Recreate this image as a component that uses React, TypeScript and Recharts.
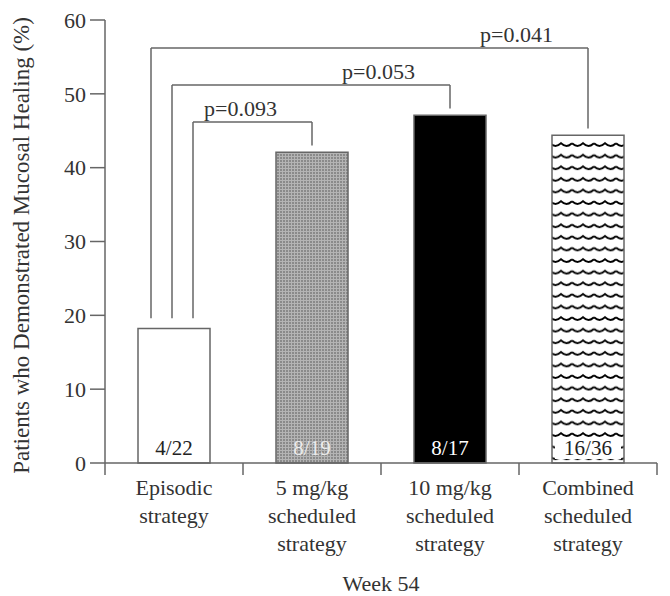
import React from 'react';
import { BarChart, Bar, XAxis, YAxis, Cell, LabelList, ReferenceLine } from 'recharts';

// Week 54 mucosal healing by treatment strategy
const groups = ['Episodic', '5 mg/kg', '10 mg/kg', 'Combined'];
const groupLines = [
  ['Episodic', 'strategy'],
  ['5 mg/kg', 'scheduled', 'strategy'],
  ['10 mg/kg', 'scheduled', 'strategy'],
  ['Combined', 'scheduled', 'strategy'],
];
const healingPct = [18.2, 42.1, 47.1, 44.4];
const healedOfTotal = ['4/22', '8/19', '8/17', '16/36'];
const yTicks = [0, 10, 20, 30, 40, 50, 60];

// comparisons vs episodic strategy
const pTargets = [1, 2, 3];
const pLabels = ['p=0.093', 'p=0.053', 'p=0.041'];
const pLevels = [46.2, 51.2, 56.2];
const pLeftEnd = 19.6;

const FONT = "'Liberation Serif', 'Times New Roman', serif";
const INK = '#333';
const LINE = '#666';

const barFills = ['#ffffff', 'url(#dotFill)', '#000000', 'url(#waveFill)'];
const labelInk = ['#222', '#ececec', '#ffffff', '#222'];
const legDx = [19, -2, -23];

const data = groups.map((g, i) => ({ group: g, pct: healingPct[i], n: healedOfTotal[i] }));

function GroupTick(props: any) {
  const { x, y, payload, index } = props;
  const half = payload.offset || 69;
  const lines = groupLines[index] || [];
  return (
    <g>
      <line x1={x - half} x2={x - half} y1={y} y2={y + 12} stroke={LINE} strokeWidth={1.5} />
      {index === groups.length - 1 && (
        <line x1={x + half} x2={x + half} y1={y} y2={y + 12} stroke={LINE} strokeWidth={1.5} />
      )}
      {lines.map((t, i) => (
        <text key={i} x={x} y={y + 32 + i * 28} textAnchor="middle" fontSize={22} fontFamily={FONT} fill={INK}>
          {t}
        </text>
      ))}
    </g>
  );
}

function CountLabel(props: any) {
  const { x, y, width, height, index, value } = props;
  const cx = x + width / 2;
  const base = y + height - 8;
  return (
    <g>
      {index === 3 && <rect x={x + 3} y={base - 18} width={width - 6} height={22} fill="#fff" />}
      <text x={cx} y={base} textAnchor="middle" fontSize={21} fontFamily={FONT} fill={labelInk[index]}>
        {value}
      </text>
    </g>
  );
}

const seg = (dx: number, label?: string) => (p: any) => (
  <g>
    <line x1={p.x1 + dx} x2={p.x2 + (label ? 0 : dx)} y1={p.y1} y2={p.y2} stroke={LINE} strokeWidth={1.5} />
    {label && (
      <text x={p.x2 - 35} y={p.y1 - 6} textAnchor="end" fontSize={22} fontFamily={FONT} fill={INK}>
        {label}
      </text>
    )}
  </g>
);

export default function App() {
  return (
    <div style={{ width: 670, height: 596 }}>
      <style>{'body{margin:0}'}</style>
      <BarChart width={670} height={596} data={data} margin={{ top: 20, right: 13, bottom: 33, left: 45 }}>
        <defs>
          <pattern id="dotFill" width={3} height={3} patternUnits="userSpaceOnUse">
            <rect width={3} height={3} fill="#8a8a8a" />
            <rect width={3} height={1} fill="#b4b4b4" />
            <rect width={1} height={3} fill="#b4b4b4" />
          </pattern>
          <pattern id="waveFill" width={22} height={11.6} patternUnits="userSpaceOnUse">
            <rect width={22} height={11.6} fill="#fff" />
            <path d="M0 4 Q5.5 9.5 11 4 Q16.5 9.5 22 4" fill="none" stroke="#000" strokeWidth={2} />
          </pattern>
        </defs>
        <XAxis
          xAxisId="bottom"
          dataKey="group"
          interval={0}
          height={100}
          tickSize={0}
          tickMargin={0}
          tickLine={false}
          axisLine={{ stroke: LINE, strokeWidth: 1.5 }}
          tick={<GroupTick />}
          label={{ value: 'Week 54', position: 'bottom', offset: 12, fontSize: 22, fontFamily: FONT, fill: INK }}
        />
        <XAxis
          xAxisId="top"
          dataKey="group"
          orientation="top"
          height={0}
          tick={false}
          tickLine={false}
          axisLine={{ stroke: LINE, strokeWidth: 1.5 }}
        />
        <YAxis
          yAxisId="left"
          domain={[0, 60]}
          ticks={yTicks}
          width={60}
          tickSize={15}
          tickMargin={4}
          axisLine={{ stroke: LINE, strokeWidth: 1.5 }}
          tickLine={{ stroke: LINE, strokeWidth: 1.5 }}
          tick={{ fill: INK, fontSize: 22, fontFamily: FONT }}
          label={{
            content: (p: any) => {
              const vb = p.viewBox;
              const cx = vb.x - 24;
              const cy = vb.y + vb.height / 2 + 4;
              return (
                <text x={cx} y={cy} transform={`rotate(-90 ${cx} ${cy})`} textAnchor="middle" dominantBaseline="central" fontSize={23} fontFamily={FONT} fill={INK}>
                  Patients who Demonstrated Mucosal Healing (%)
                </text>
              );
            },
          }}
        />
        <YAxis
          yAxisId="right"
          orientation="right"
          domain={[0, 60]}
          width={0}
          tick={false}
          tickLine={false}
          axisLine={{ stroke: LINE, strokeWidth: 1.5 }}
          label={{
            content: (p: any) => {
              const vb = p.viewBox;
              const cx = vb.x + 8;
              const cy = vb.y + vb.height + 4;
              return (
                <text x={cx} y={cy} transform={`rotate(-90 ${cx} ${cy})`} textAnchor="middle" fontSize={10} fontFamily={FONT} fill="#777">
                  6225a
                </text>
              );
            },
          }}
        />
        <Bar xAxisId="bottom" yAxisId="left" dataKey="pct" barSize={72} stroke={LINE} strokeWidth={1.5} isAnimationActive={false}>
          {data.map((d, i) => (
            <Cell key={d.group} fill={barFills[i]} />
          ))}
          <LabelList dataKey="n" content={<CountLabel />} />
        </Bar>
        {pTargets.map((t, i) => (
          <React.Fragment key={pLabels[i]}>
            <ReferenceLine
              xAxisId="bottom"
              yAxisId="left"
              segment={[{ x: groups[0], y: pLevels[i] }, { x: groups[t], y: pLevels[i] }]}
              shape={seg(legDx[i], pLabels[i])}
            />
            <ReferenceLine
              xAxisId="bottom"
              yAxisId="left"
              segment={[{ x: groups[0], y: pLevels[i] }, { x: groups[0], y: pLeftEnd }]}
              shape={seg(legDx[i])}
            />
            <ReferenceLine
              xAxisId="bottom"
              yAxisId="left"
              segment={[{ x: groups[t], y: pLevels[i] }, { x: groups[t], y: healingPct[t] + 0.9 }]}
              shape={seg(0)}
            />
          </React.Fragment>
        ))}
      </BarChart>
    </div>
  );
}
